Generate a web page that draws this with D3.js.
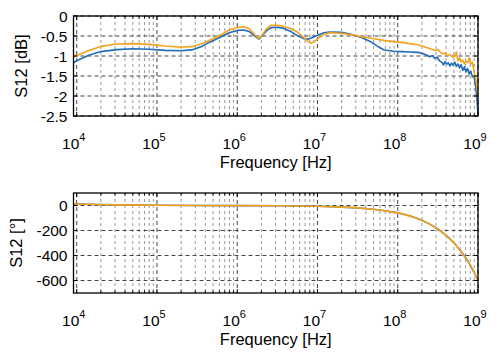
<!DOCTYPE html>
<html><head><meta charset="utf-8">
<script src="https://cdn.jsdelivr.net/npm/d3@7"></script>
<style>body{margin:0;background:#fff}svg{display:block}text{font-family:"Liberation Sans",Arial,Helvetica,sans-serif;fill:#000}</style>
</head><body><svg id="c" width="500" height="359"></svg>
<script>
// ---- data (frequency given as log10 of Hz) ----
const magBlueLogF = [3.96,4.0,4.15,4.3,4.5,4.7,4.9,5.1,5.3,5.45,5.55,5.65,5.8,5.9,6.0,6.08,6.15,6.22,6.27,6.31,6.36,6.42,6.5,6.58,6.67,6.75,6.82,6.88,6.94,7.0,7.08,7.15,7.3,7.42,7.55,7.65,7.75,7.83,7.95,8.05,8.15,8.25,8.3,8.35,8.4,8.43,8.46,8.49,8.52,8.55,8.57,8.59,8.61,8.63,8.65,8.67,8.69,8.71,8.73,8.75,8.77,8.79,8.81,8.83,8.85,8.87,8.89,8.91,8.93,8.95,8.97,8.98,8.99,9.0];
const magBlueDb = [-1.17,-1.12,-0.98,-0.89,-0.84,-0.82,-0.83,-0.86,-0.87,-0.84,-0.77,-0.66,-0.52,-0.42,-0.36,-0.35,-0.39,-0.5,-0.58,-0.5,-0.38,-0.29,-0.28,-0.31,-0.39,-0.49,-0.56,-0.58,-0.54,-0.48,-0.42,-0.40,-0.41,-0.46,-0.54,-0.63,-0.76,-0.85,-0.88,-0.89,-0.90,-0.91,-0.93,-0.97,-1.02,-0.99,-1.06,-1.03,-1.12,-1.16,-1.22,-1.14,-1.20,-1.17,-1.25,-1.18,-1.23,-1.15,-1.26,-1.20,-1.30,-1.22,-1.36,-1.27,-1.40,-1.31,-1.45,-1.38,-1.52,-1.50,-1.75,-1.95,-2.15,-2.45];
const magOrangeLogF = [3.96,4.0,4.15,4.3,4.5,4.7,4.9,5.1,5.3,5.45,5.55,5.65,5.8,5.9,6.0,6.08,6.15,6.22,6.27,6.31,6.36,6.42,6.5,6.58,6.67,6.75,6.82,6.88,6.92,6.96,7.0,7.08,7.15,7.3,7.42,7.55,7.7,7.83,7.95,8.05,8.15,8.25,8.35,8.42,8.47,8.5,8.53,8.56,8.59,8.62,8.65,8.68,8.71,8.73,8.75,8.77,8.79,8.81,8.83,8.85,8.87,8.89,8.91,8.93,8.95,8.97,8.99,9.0];
const magOrangeDb = [-1.03,-0.99,-0.86,-0.76,-0.70,-0.69,-0.71,-0.75,-0.78,-0.76,-0.70,-0.61,-0.47,-0.35,-0.29,-0.27,-0.32,-0.47,-0.57,-0.48,-0.33,-0.23,-0.23,-0.26,-0.32,-0.40,-0.52,-0.64,-0.68,-0.64,-0.57,-0.46,-0.42,-0.43,-0.47,-0.52,-0.57,-0.61,-0.64,-0.66,-0.69,-0.72,-0.78,-0.83,-0.86,-0.84,-0.90,-0.95,-0.92,-0.99,-0.96,-1.03,-1.00,-0.90,-1.12,-1.05,-1.15,-1.10,-1.20,-1.13,-1.16,-1.05,-1.20,-1.15,-1.38,-1.55,-1.80,-2.0];
const phaseLogF = [3.96,4.0,4.25,4.5,4.75,5.0,5.5,6.0,6.5,7.0,7.25,7.5,7.75,8.0,8.1,8.2,8.3,8.4,8.5,8.6,8.7,8.8,8.85,8.9,8.95,9.0];
const phaseBlueDeg = [13,12,8,5,3,2,0,-1,-2,-6,-11,-19,-34,-58,-74,-93,-118,-149,-188,-237,-298,-376,-422,-474,-532,-598];
const phaseOrangeDeg = [13,12,8,5,3,2,0,-1,-2,-6,-11,-19,-34,-59,-75,-94,-119,-150,-189,-238,-299,-377,-423,-475,-533,-600];
const xTickExps = [4,5,6,7,8,9];
const magTicks = [0,-0.5,-1,-1.5,-2,-2.5];
const magTickLabels = ["0","-0.5","-1","-1.5","-2","-2.5"];
const phaseTicks = [0,-200,-400,-600];
const phaseTickLabels = ["0","-200","-400","-600"];
const colBlue = "#1f6db7", colOrange = "#f5a21c";

const svg = d3.select("#c");
const L = 73.5, R = 478;
const x = d3.scaleLog().domain([Math.pow(10,3.96), 1e9]).range([L, R]);

function panel(top, bottom, yDomain, ticks, tickLabels, ylabel, ylabelX, series) {
  const y = d3.scaleLinear().domain(yDomain).range([bottom, top]);
  const g = svg.append("g");
  // minor gridlines
  const minors = [];
  for (let e = 4; e < 9; e++) for (let k = 2; k <= 9; k++) minors.push(k * Math.pow(10, e));
  g.selectAll(".mg").data(minors).enter().append("line")
    .attr("x1", d => x(d)).attr("x2", d => x(d)).attr("y1", top).attr("y2", bottom)
    .attr("stroke", "#9a9a9a").attr("stroke-width", 1).attr("stroke-dasharray", "3,3");
  const majors = xTickExps.map(e => Math.pow(10, e));
  g.selectAll(".Mg").data(majors).enter().append("line")
    .attr("x1", d => x(d)).attr("x2", d => x(d)).attr("y1", top).attr("y2", bottom)
    .attr("stroke", "#444").attr("stroke-width", 1).attr("stroke-dasharray", "4,3");
  g.selectAll(".yg").data(ticks).enter().append("line")
    .attr("x1", L).attr("x2", R).attr("y1", d => y(d)).attr("y2", d => y(d))
    .attr("stroke", "#444").attr("stroke-width", 1).attr("stroke-dasharray", "4,3");
  // lines
  series.forEach(s => {
    const line = d3.line().x((d, i) => x(Math.pow(10, s.lf[i]))).y(d => y(d));
    g.append("path").datum(s.v).attr("d", line).attr("fill", "none")
      .attr("stroke", s.c).attr("stroke-width", 1.6).attr("stroke-linejoin", "round");
  });
  // frame
  g.append("rect").attr("x", L).attr("y", top).attr("width", R - L).attr("height", bottom - top)
    .attr("fill", "none").attr("stroke", "#000").attr("stroke-width", 1.3);
  // inner ticks
  const tk = g.append("g").attr("stroke", "#000").attr("stroke-width", 1);
  minors.forEach(d => {
    tk.append("line").attr("x1", x(d)).attr("x2", x(d)).attr("y1", bottom).attr("y2", bottom - 2.5);
    tk.append("line").attr("x1", x(d)).attr("x2", x(d)).attr("y1", top).attr("y2", top + 2.5);
  });
  majors.forEach(d => {
    tk.append("line").attr("x1", x(d)).attr("x2", x(d)).attr("y1", bottom).attr("y2", bottom - 4);
    tk.append("line").attr("x1", x(d)).attr("x2", x(d)).attr("y1", top).attr("y2", top + 4);
  });
  ticks.forEach(d => {
    tk.append("line").attr("x1", L).attr("x2", L + 4).attr("y1", y(d)).attr("y2", y(d));
    tk.append("line").attr("x1", R).attr("x2", R - 4).attr("y1", y(d)).attr("y2", y(d));
  });
  // y tick labels
  g.selectAll(".yl").data(ticks).enter().append("text")
    .attr("x", L - 6).attr("y", d => y(d)).attr("dy", "0.36em")
    .attr("text-anchor", "end").attr("font-size", 15.5)
    .text((d, i) => tickLabels[i]);
  // x tick labels
  xTickExps.forEach(e => {
    const t = g.append("text").attr("x", x(Math.pow(10, e)) - 3).attr("y", bottom + 33)
      .attr("text-anchor", "middle").attr("font-size", 15.5);
    t.append("tspan").text("10");
    t.append("tspan").attr("font-size", 11).attr("dy", -8).text(String(e));
  });
  g.append("text").attr("x", (L + R) / 2).attr("y", bottom + 52).attr("text-anchor", "middle")
    .attr("font-size", 16.5).text("Frequency [Hz]");
  g.append("text").attr("transform", `translate(${ylabelX},${(top + bottom) / 2}) rotate(-90)`)
    .attr("text-anchor", "middle").attr("font-size", 16.5).text(ylabel);
}

panel(16, 116, [-2.5, 0], magTicks, magTickLabels, "S12 [dB]", 27, [
  {lf: magBlueLogF, v: magBlueDb, c: colBlue},
  {lf: magOrangeLogF, v: magOrangeDb, c: colOrange}
]);
panel(193, 293, [-700, 100], phaseTicks, phaseTickLabels, "S12 [°]", 22, [
  {lf: phaseLogF, v: phaseBlueDeg, c: colBlue},
  {lf: phaseLogF, v: phaseOrangeDeg, c: colOrange}
]);
</script></body></html>
